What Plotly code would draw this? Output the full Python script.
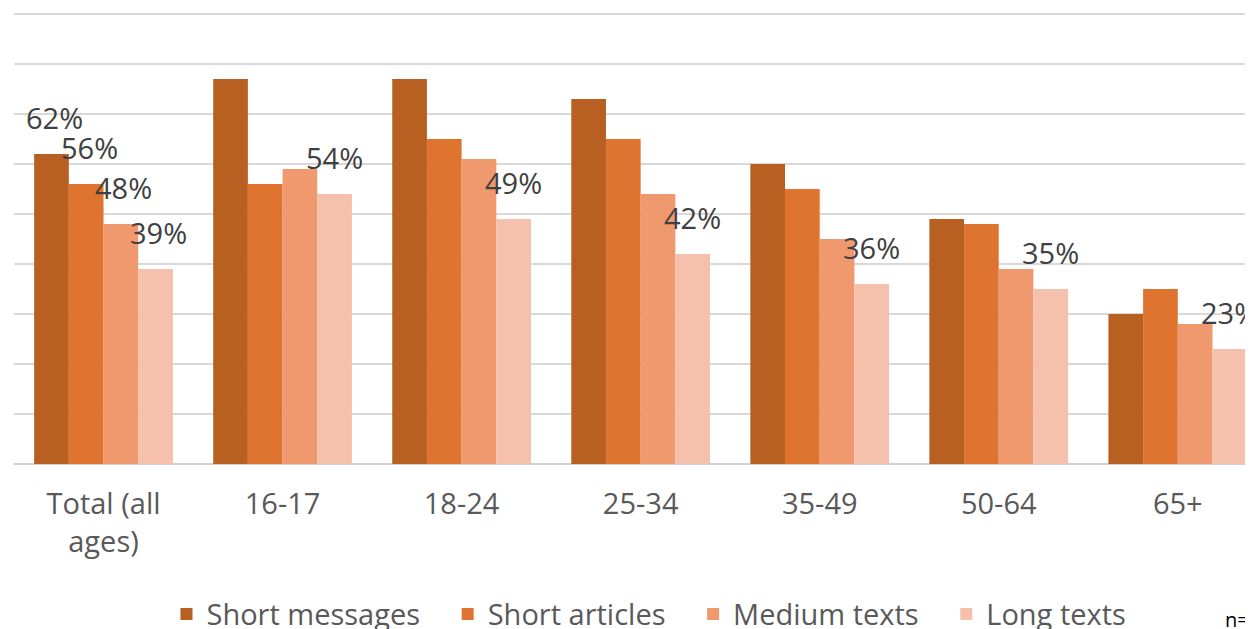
import plotly.graph_objects as go

categories = ["Total (all<br>ages)", "16-17", "18-24", "25-34", "35-49", "50-64", "65+"]
short_messages = [62, 77, 77, 73, 60, 49, 30]
short_articles = [56, 56, 65, 65, 55, 48, 35]
medium_texts = [48, 59, 61, 54, 45, 39, 28]
long_texts = [39, 54, 49, 42, 36, 35, 23]
series_names = ["Short messages", "Short articles", "Medium texts", "Long texts"]
series_values = [short_messages, short_articles, medium_texts, long_texts]
colors = ["#B85F22", "#DE7430", "#F0986E", "#F5C0AC"]
# which labels are shown: all series for Total, long texts for the rest
label_series_total = [0, 1, 2, 3]
label_series_groups = [3]

bargap = 0.225
pad = "\u00a0\u00a0\u00a0"  # extra spacing between legend entries
fig = go.Figure()
for k, (name, vals, col) in enumerate(zip(series_names, series_values, colors)):
    legend_name = name + (pad if k < len(series_names) - 1 else "")
    fig.add_trace(go.Bar(x=categories, y=vals, name=legend_name, marker=dict(color=col, line=dict(width=0))))

bw = (1 - bargap) / 4
annos = []
for s, vals in enumerate(series_values):
    for i, v in enumerate(vals):
        show = (i == 0 and s in label_series_total) or (i > 0 and s in label_series_groups)
        if not show:
            continue
        xoff = (s - 1.5) * bw
        annos.append(dict(x=i + xoff, y=v, xref="x", yref="y", text=f"{v}%", showarrow=False,
                          yanchor="bottom", xanchor="center", yshift=15, xshift=3 if i == 0 else 0,
                          font=dict(family="Open Sans", size=29, color="#404040")))
annos.append(dict(x=0.976, y=-0.345, xref="paper", yref="paper", text="n=4", showarrow=False,
                  xanchor="left", yanchor="middle", font=dict(family="Open Sans", size=20, color="#000000")))

# the page body has an 8px margin, so the figure is sized to fit the 1253x629 window
fig.update_layout(
    width=1245, height=621,
    margin=dict(l=6, r=0, t=4, b=165, autoexpand=False),
    paper_bgcolor="white", plot_bgcolor="white",
    barmode="group", bargap=bargap, bargroupgap=0,
    font=dict(family="Open Sans", size=29, color="#595959"),
    showlegend=True,
    legend=dict(orientation="h", x=0.5125, xanchor="center", y=-0.332, yanchor="middle",
                font=dict(family="Open Sans", size=29, color="#595959"), traceorder="normal"),
    annotations=annos,
)
fig.update_xaxes(range=[-0.5, 6.42], showgrid=False, showline=False, ticks="outside", ticklen=14,
                 tickcolor="rgba(0,0,0,0)", tickfont=dict(size=29, color="#595959"), automargin=False)
fig.update_yaxes(range=[0, 90.4], dtick=10, showgrid=True, gridcolor="#D9D9D9", gridwidth=2,
                 showticklabels=False, zeroline=True, zerolinecolor="#D0D0D0", zerolinewidth=2, automargin=False)
fig.write_html("out.html")
